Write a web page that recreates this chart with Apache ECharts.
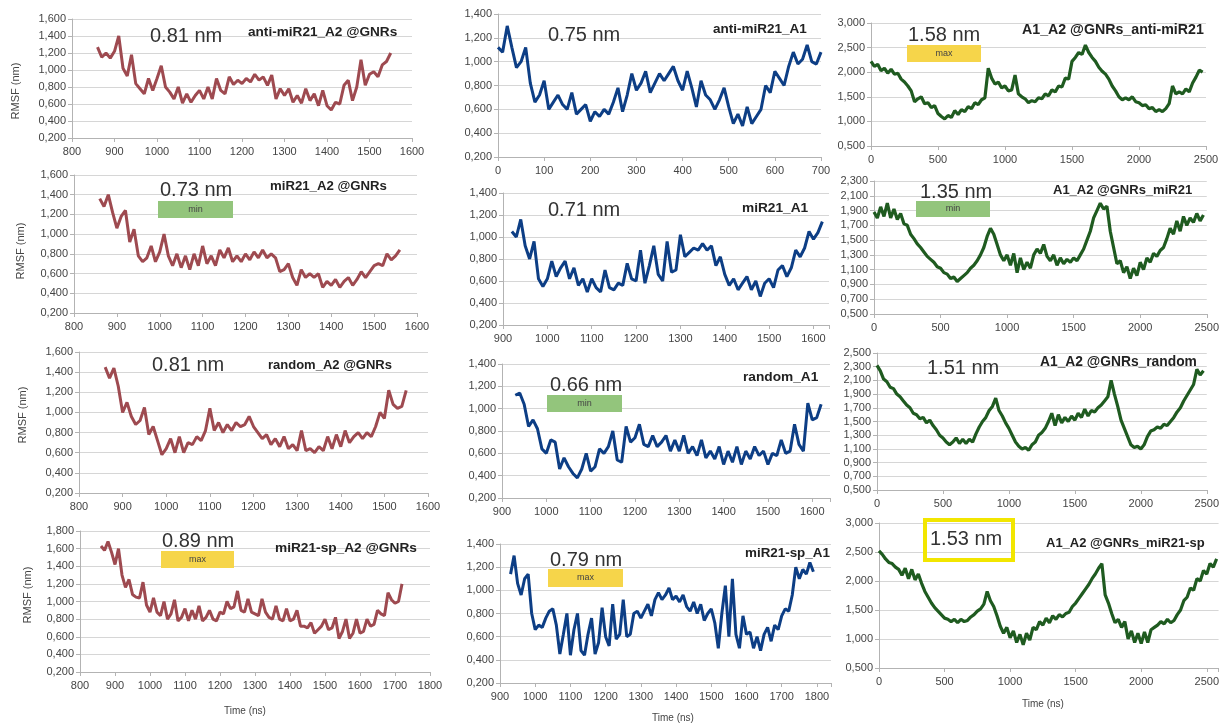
<!DOCTYPE html>
<html>
<head>
<meta charset="utf-8">
<script src="https://cdn.jsdelivr.net/npm/echarts@6/dist/echarts.min.js"></script>
<style>
html, body { margin: 0; padding: 0; background: #ffffff; }
#chart { width: 1222px; height: 724px; }
</style>
</head>
<body>
<div id="chart"></div>
<script>
// RMSF (nm) profiles, one array per system; x = start + index * step (ns)
const xStarts = [860, 0, 0, 860, 920, 0, 860, 930, 0, 860, 930, 0];
const xSteps  = [10, 10, 25, 10, 10, 25, 10, 10, 25, 10, 10, 25];

const antiMiR21_A2 = [1.27,1.15,1.20,1.14,1.22,1.40,1.02,0.93,1.18,0.84,
  0.78,0.72,0.90,0.76,0.90,1.05,0.80,0.74,0.66,0.80,
  0.61,0.72,0.62,0.70,0.76,0.66,0.80,0.66,0.90,0.76,
  0.72,0.92,0.83,0.88,0.84,0.90,0.86,0.95,0.88,0.92,
  0.82,0.94,0.66,0.78,0.70,0.78,0.62,0.70,0.61,0.78,
  0.64,0.72,0.58,0.76,0.58,0.53,0.62,0.60,0.82,0.88,
  0.64,0.80,1.12,0.82,0.95,0.98,0.92,1.06,1.10,1.20];

const antiMiR21_A1 = [1.12,1.08,1.30,1.12,0.95,1.00,1.12,0.82,0.66,0.72,
  0.84,0.60,0.66,0.72,0.64,0.60,0.74,0.56,0.60,0.64,
  0.50,0.58,0.54,0.60,0.56,0.66,0.78,0.58,0.72,0.90,
  0.76,0.82,0.92,0.74,0.82,0.90,0.84,0.90,0.96,0.84,
  0.76,0.92,0.78,0.62,0.84,0.72,0.68,0.60,0.68,0.78,
  0.62,0.48,0.56,0.46,0.62,0.48,0.54,0.60,0.80,0.74,
  0.92,0.86,0.80,0.96,1.08,0.98,1.02,1.14,1.00,0.98,
  1.08];

const gnrsAntiMiR21 = [2.22,2.12,2.16,2.03,2.08,1.98,2.06,1.96,1.98,1.86,
  1.80,1.72,1.62,1.40,1.46,1.50,1.36,1.38,1.28,1.32,
  1.16,1.10,1.05,1.12,1.08,1.22,1.14,1.24,1.20,1.30,
  1.26,1.38,1.34,1.44,1.48,2.08,1.88,1.76,1.80,1.68,
  1.72,1.62,1.64,1.94,1.56,1.50,1.46,1.38,1.42,1.40,
  1.48,1.46,1.56,1.52,1.64,1.60,1.72,1.70,1.88,1.86,
  2.22,2.30,2.40,2.36,2.55,2.40,2.30,2.22,2.10,2.02,
  1.96,1.86,1.72,1.62,1.50,1.44,1.48,1.44,1.50,1.40,
  1.38,1.32,1.34,1.26,1.28,1.20,1.24,1.20,1.26,1.36,
  1.72,1.56,1.60,1.56,1.66,1.60,1.78,1.90,2.04,2.00];

const miR21_A2 = [1.36,1.28,1.40,1.22,1.06,1.18,1.24,0.92,1.05,0.78,
  0.72,0.76,0.88,0.72,0.82,1.00,0.78,0.68,0.80,0.66,
  0.78,0.64,0.80,0.68,0.88,0.70,0.78,0.68,0.84,0.76,
  0.86,0.72,0.78,0.72,0.80,0.74,0.82,0.76,0.84,0.76,
  0.80,0.76,0.62,0.64,0.70,0.56,0.48,0.64,0.56,0.60,
  0.56,0.60,0.46,0.52,0.48,0.54,0.46,0.52,0.56,0.48,
  0.54,0.62,0.56,0.62,0.68,0.70,0.68,0.80,0.74,0.78,
  0.84];

const miR21_A1 = [1.05,1.00,1.16,0.92,0.80,0.96,0.62,0.55,0.62,0.78,
  0.64,0.72,0.78,0.62,0.72,0.56,0.62,0.50,0.62,0.54,
  0.50,0.70,0.54,0.52,0.58,0.56,0.76,0.62,0.60,0.88,
  0.58,0.74,0.92,0.66,0.60,0.96,0.68,0.70,1.02,0.82,
  0.86,0.90,0.88,0.94,0.88,0.92,0.74,0.82,0.66,0.56,
  0.62,0.52,0.58,0.64,0.52,0.60,0.46,0.58,0.62,0.54,
  0.70,0.74,0.64,0.72,0.88,0.82,0.90,1.05,0.98,1.04,
  1.14];

const gnrsMiR21 = [1.88,1.80,1.95,1.82,2.00,1.80,1.92,1.78,1.86,1.72,
  1.70,1.58,1.52,1.45,1.40,1.34,1.28,1.24,1.20,1.14,
  1.12,1.06,1.04,0.98,1.00,0.94,0.98,1.02,1.06,1.12,
  1.16,1.22,1.30,1.40,1.55,1.66,1.58,1.44,1.30,1.22,
  1.30,1.16,1.32,1.06,1.26,1.10,1.20,1.12,1.30,1.38,
  1.32,1.44,1.28,1.22,1.30,1.16,1.26,1.18,1.24,1.20,
  1.26,1.22,1.30,1.38,1.50,1.62,1.80,1.90,2.00,1.92,
  1.96,1.62,1.40,1.18,1.22,1.06,1.14,0.98,1.12,1.02,
  1.20,1.10,1.26,1.20,1.32,1.28,1.36,1.40,1.52,1.66,
  1.58,1.76,1.62,1.82,1.70,1.80,1.74,1.86,1.76,1.84];

const random_A2 = [1.45,1.34,1.44,1.26,1.00,1.10,0.96,0.88,0.92,1.05,
  0.78,0.86,0.72,0.58,0.64,0.74,0.60,0.76,0.60,0.70,
  0.68,0.76,0.72,0.82,1.04,0.82,0.90,0.80,0.88,0.82,
  0.90,0.86,0.88,0.96,0.86,0.80,0.74,0.78,0.68,0.74,
  0.66,0.76,0.64,0.68,0.62,0.82,0.62,0.64,0.60,0.66,
  0.62,0.76,0.64,0.78,0.66,0.82,0.70,0.76,0.80,0.74,
  0.80,0.76,0.86,1.00,0.94,1.22,1.08,1.04,1.06,1.22];

const random_A1 = [1.12,1.14,1.04,0.84,0.90,0.82,0.64,0.60,0.72,0.70,
  0.46,0.56,0.48,0.42,0.38,0.46,0.60,0.44,0.48,0.64,
  0.60,0.66,0.80,0.54,0.52,0.84,0.70,0.74,0.86,0.68,
  0.66,0.76,0.66,0.70,0.76,0.62,0.72,0.62,0.76,0.60,
  0.66,0.58,0.72,0.56,0.62,0.55,0.66,0.50,0.62,0.52,
  0.66,0.50,0.62,0.55,0.66,0.58,0.62,0.50,0.60,0.58,
  0.72,0.60,0.62,0.86,0.68,0.62,1.05,0.90,0.92,1.04];

const gnrsRandom = [2.32,2.24,2.12,2.08,2.00,1.98,1.90,1.86,1.80,1.74,
  1.70,1.62,1.60,1.54,1.56,1.48,1.52,1.44,1.38,1.30,
  1.26,1.20,1.16,1.20,1.26,1.18,1.24,1.18,1.24,1.20,
  1.32,1.42,1.50,1.56,1.66,1.72,1.84,1.66,1.58,1.48,
  1.40,1.30,1.20,1.14,1.10,1.12,1.08,1.16,1.20,1.30,
  1.34,1.40,1.50,1.62,1.44,1.60,1.48,1.56,1.50,1.58,
  1.52,1.62,1.56,1.68,1.58,1.66,1.64,1.70,1.74,1.80,
  1.86,2.10,1.90,1.72,1.52,1.40,1.28,1.16,1.12,1.14,
  1.10,1.16,1.28,1.36,1.38,1.42,1.40,1.46,1.44,1.50,
  1.56,1.64,1.70,1.80,1.88,1.96,2.04,2.26,2.18,2.24];

const miR21sp_A2 = [1.63,1.58,1.68,1.56,1.42,1.60,1.30,1.16,1.25,1.08,
  1.05,1.04,1.22,0.96,0.88,1.04,0.88,0.84,1.00,0.80,
  0.86,1.02,0.78,0.82,0.92,0.78,0.90,0.80,0.95,0.78,
  0.82,0.90,0.80,0.78,0.88,0.86,1.00,0.92,0.94,1.12,
  0.90,0.88,1.03,0.88,0.86,0.84,1.03,0.88,0.82,0.80,
  0.95,0.80,0.78,0.92,0.78,0.80,0.90,0.72,0.72,0.70,
  0.76,0.64,0.68,0.72,0.80,0.68,0.70,0.82,0.58,0.66,
  0.80,0.58,0.64,0.80,0.64,0.66,0.80,0.72,0.74,0.90,
  0.86,0.84,1.10,1.02,0.98,1.00,1.20];

const miR21sp_A1 = [1.14,1.30,1.06,0.96,1.10,1.14,0.80,0.66,0.70,0.68,
  0.76,0.82,0.84,0.70,0.45,0.62,0.80,0.44,0.66,0.80,
  0.48,0.44,0.62,0.76,0.45,0.55,0.85,0.60,0.52,0.88,
  0.58,0.62,0.92,0.60,0.62,0.80,0.82,0.76,0.82,0.88,
  0.78,0.92,0.98,0.92,0.96,1.02,0.92,0.95,0.90,0.96,
  0.86,0.82,0.90,0.80,0.88,0.74,0.80,0.84,0.72,0.50,
  0.80,1.04,0.60,1.10,0.62,0.50,0.78,0.62,0.64,0.50,
  0.60,0.48,0.62,0.68,0.56,0.70,0.66,0.78,0.84,0.82,
  0.96,1.20,1.10,1.18,1.14,1.24,1.16];

const gnrsMiR21sp = [2.52,2.46,2.38,2.32,2.30,2.24,2.20,2.10,2.22,2.04,
  2.20,2.02,2.12,1.96,1.82,1.72,1.62,1.54,1.48,1.42,
  1.36,1.34,1.30,1.34,1.28,1.34,1.30,1.32,1.38,1.42,
  1.48,1.52,1.60,1.82,1.66,1.56,1.40,1.22,1.10,1.20,
  1.02,1.14,0.94,1.08,0.90,1.10,0.98,1.20,1.16,1.30,
  1.24,1.36,1.28,1.40,1.34,1.42,1.38,1.44,1.46,1.56,
  1.62,1.70,1.78,1.86,1.94,2.04,2.12,2.22,2.30,1.76,
  1.62,1.44,1.28,1.34,1.20,1.30,1.00,1.14,0.94,1.10,
  0.92,1.12,0.94,1.16,1.20,1.24,1.30,1.26,1.34,1.28,
  1.32,1.42,1.50,1.66,1.72,1.88,1.84,2.04,2.00,2.18,
  2.12,2.30,2.24,2.38];

const profiles = [antiMiR21_A2, antiMiR21_A1, gnrsAntiMiR21, miR21_A2, miR21_A1, gnrsMiR21,
  random_A2, random_A1, gnrsRandom, miR21sp_A2, miR21sp_A1, gnrsMiR21sp];

const panelTitles = ['anti-miR21_A2 @GNRs', 'anti-miR21_A1', 'A1_A2 @GNRs_anti-miR21',
  'miR21_A2 @GNRs', 'miR21_A1', 'A1_A2 @GNRs_miR21',
  'random_A2 @GNRs', 'random_A1', 'A1_A2 @GNRs_random',
  'miR21-sp_A2 @GNRs', 'miR21-sp_A1', 'A1_A2 @GNRs_miR21-sp'];
const meanLabels = ['0.81 nm', '0.75 nm', '1.58 nm', '0.73 nm', '0.71 nm', '1.35 nm',
  '0.81 nm', '0.66 nm', '1.51 nm', '0.89 nm', '0.79 nm', '1.53 nm'];
const badges = [null, null, 'max', 'min', null, 'min', null, 'min', null, 'max', 'max', null];

// axis ranges: [xMin, xMax, xInterval, yMin, yMax, yInterval]
const axisRanges = [
  [800, 1600, 100, 0.2, 1.6, 0.2], [0, 700, 100, 0.2, 1.4, 0.2], [0, 2500, 500, 0.5, 3.0, 0.5],
  [800, 1600, 100, 0.2, 1.6, 0.2], [900, 1635, 100, 0.2, 1.4, 0.2], [0, 2500, 500, 0.5, 2.3, 0.2],
  [800, 1600, 100, 0.2, 1.6, 0.2], [900, 1640, 100, 0.2, 1.4, 0.2], [0, 2500, 500, 0.5, 2.5, 0.2],
  [800, 1800, 100, 0.2, 1.8, 0.2], [900, 1840, 100, 0.2, 1.4, 0.2], [0, 2590, 500, 0.5, 3.0, 0.5]
];

// ---- layout (pixels) ----
const gridBoxes = [
  [72, 19, 340, 119], [498, 14, 323, 143], [871, 23, 335, 123],
  [74, 175, 343, 138], [503, 193, 326, 132], [874, 181, 333, 133],
  [79, 352, 349, 141], [502, 364, 328, 134], [877, 353, 335, 137],
  [80, 531, 350, 141], [500, 544, 331, 139], [879, 523, 341, 145]
];
const meanPos = [[150, 36], [548, 35], [908, 35], [160, 190], [548, 210], [920, 192],
  [152, 365], [550, 385], [927, 368], [162, 541], [550, 560], [930, 539]];
const titlePos = [[248, 32, 13.6], [713, 29, 13.5], [1022, 30, 14.2], [270, 186, 13.2],
  [742, 208, 13.7], [1053, 190, 13], [268, 365, 13], [743, 377, 13.7],
  [1040, 362, 13.8], [275, 548, 13.7], [745, 553, 13.4], [1046, 543, 13]];
const badgeBoxes = [null, null, [907, 45, 74, 17], [158, 201, 75, 17], null, [916, 201, 74, 16],
  null, [547, 395, 75, 17], null, [161, 551, 73, 17], [548, 569, 75, 18], null];
const rmsfTitlePos = [[16, 91], [21, 251], [23, 415], [28, 595]];
const timeTitlePos = [[245, 711], [673, 718], [1043, 704]];

const lineColors = ['#9e4a50', '#0d3e85', '#1f5b20'];
const badgeColors = { min: '#93c57c', max: '#f6d54a' };
const FONT = '"Liberation Sans", Arial, sans-serif';

const grids = [], xAxes = [], yAxes = [], series = [], graphics = [];

profiles.forEach((vals, i) => {
  const [l, t, w, h] = gridBoxes[i];
  const [x0, x1, xi, y0, y1, yi] = axisRanges[i];
  grids.push({ left: l, top: t, width: w, height: h, containLabel: false });
  xAxes.push({
    type: 'value', gridIndex: i, min: x0, max: x1, interval: xi,
    axisLine: { show: true, lineStyle: { color: '#b3b3b3', width: 1 } },
    axisTick: { show: true, length: 4, lineStyle: { color: '#b3b3b3' } },
    splitLine: { show: false },
    axisLabel: {
      color: '#444', fontSize: 11, fontFamily: FONT, margin: 8,
      formatter: v => (Math.abs(v % xi) < 1e-6 ? String(v) : '')
    }
  });
  yAxes.push({
    type: 'value', gridIndex: i, min: y0, max: y1, interval: yi,
    axisLine: { show: true, lineStyle: { color: '#b3b3b3', width: 1 } },
    axisTick: { show: true, length: 4, lineStyle: { color: '#b3b3b3' } },
    splitLine: { show: true, lineStyle: { color: '#d6d6d6', width: 1 } },
    axisLabel: {
      color: '#444', fontSize: 11, fontFamily: FONT, margin: 6,
      formatter: v => v.toFixed(3).replace('.', ',')
    }
  });
  series.push({
    type: 'line', xAxisIndex: i, yAxisIndex: i,
    data: vals.map((v, k) => [xStarts[i] + k * xSteps[i], v]),
    showSymbol: false, symbol: 'none', smooth: false,
    lineStyle: { color: lineColors[i % 3], width: (i % 3 === 2) ? 3.2 : 3 },
    animation: false
  });

  // mean RMSF value
  graphics.push({
    type: 'text', x: meanPos[i][0], y: meanPos[i][1], z: 10,
    style: { text: meanLabels[i], font: '20px ' + FONT, fill: '#333',
      align: 'left', verticalAlign: 'middle', textAlign: 'left', textVerticalAlign: 'middle' }
  });
  // system name
  graphics.push({
    type: 'text', x: titlePos[i][0], y: titlePos[i][1], z: 10,
    style: { text: panelTitles[i], font: 'bold ' + titlePos[i][2] + 'px ' + FONT, fill: '#222',
      align: 'left', verticalAlign: 'middle', textAlign: 'left', textVerticalAlign: 'middle' }
  });
  // min / max tag
  if (badges[i]) {
    const [bx, by, bw, bh] = badgeBoxes[i];
    graphics.push({
      type: 'rect', z: 9, shape: { x: bx, y: by, width: bw, height: bh },
      style: { fill: badgeColors[badges[i]] }
    });
    graphics.push({
      type: 'text', x: bx + bw / 2, y: by + bh / 2, z: 10,
      style: { text: badges[i], font: '9px ' + FONT, fill: '#444',
        align: 'center', verticalAlign: 'middle', textAlign: 'center', textVerticalAlign: 'middle' }
    });
  }
});

// highlighted value frame
graphics.push({
  type: 'rect', z: 11, shape: { x: 925, y: 520, width: 88, height: 40 },
  style: { fill: 'none', stroke: '#f2e600', lineWidth: 4 }
});

// axis titles
rmsfTitlePos.forEach(([x, y]) => {
  graphics.push({
    type: 'text', x: x, y: y, rotation: Math.PI / 2, z: 10,
    style: { text: 'RMSF (nm)', font: '11px ' + FONT, fill: '#444',
      align: 'center', verticalAlign: 'middle', textAlign: 'center', textVerticalAlign: 'middle' }
  });
});
timeTitlePos.forEach(([x, y]) => {
  graphics.push({
    type: 'text', x: x, y: y, z: 10,
    style: { text: 'Time (ns)', font: '10px ' + FONT, fill: '#444',
      align: 'center', verticalAlign: 'middle', textAlign: 'center', textVerticalAlign: 'middle' }
  });
});

const chart = echarts.init(document.getElementById('chart'), null, { renderer: 'canvas' });
chart.setOption({
  backgroundColor: '#ffffff',
  animation: false,
  grid: grids,
  xAxis: xAxes,
  yAxis: yAxes,
  series: series,
  graphic: { elements: graphics }
});
</script>
</body>
</html>
